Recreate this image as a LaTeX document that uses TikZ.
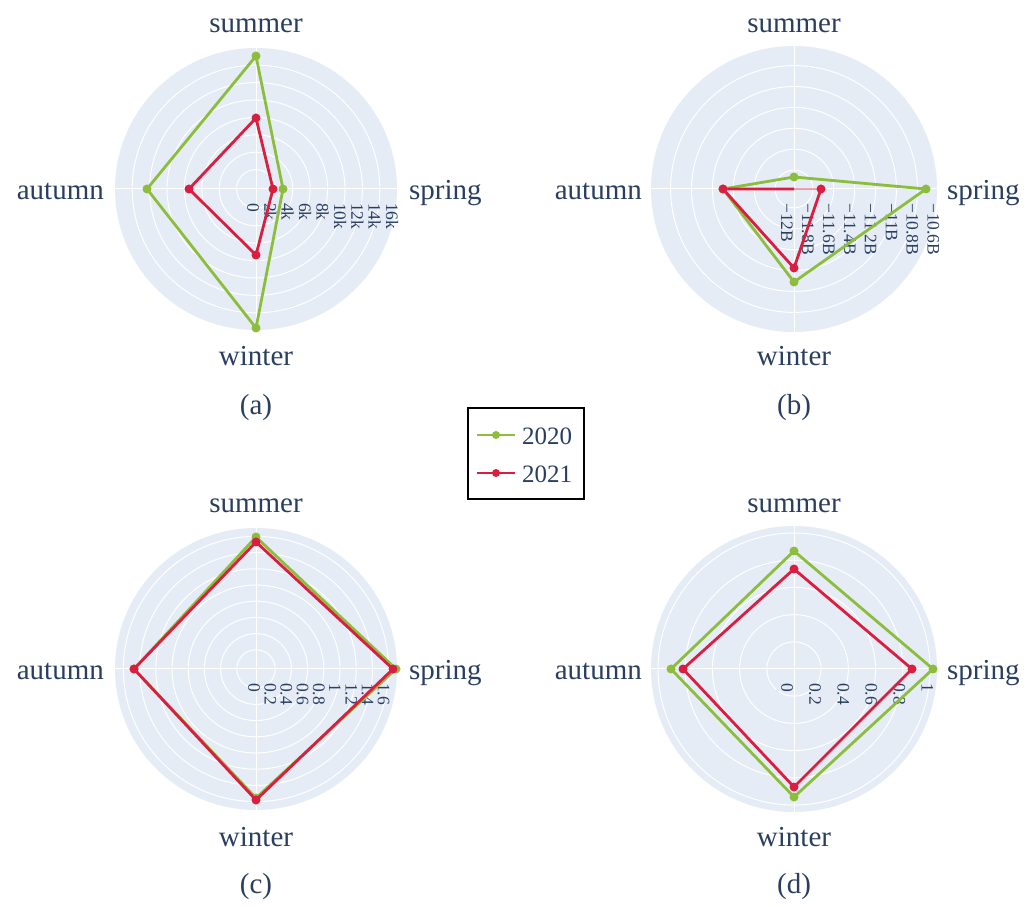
\documentclass[tikz,border=0pt]{standalone}
\usepackage{fontspec}
\setmainfont{Liberation Serif}
\definecolor{bgpol}{RGB}{229,236,246}
\definecolor{gr}{RGB}{141,189,60}
\definecolor{rd}{RGB}{218,30,64}
\definecolor{txt}{RGB}{42,63,95}
\tikzset{
  axlab/.style={font=\fontsize{29}{30}\selectfont, text=txt, inner sep=0pt},
  caplab/.style={font=\fontsize{29}{30}\selectfont, text=txt, inner sep=0pt, anchor=base},
  ticklab/.style={font=\fontsize{17.5}{18}\selectfont, text=txt, inner sep=0pt, rotate=-90, anchor=west},
  gline/.style={draw=gr, line width=2.8pt, line join=round},
  rline/.style={draw=rd, line width=2.8pt, line join=round},
  gdot/.style={circle, fill=gr, inner sep=0pt, minimum size=9pt},
  rdot/.style={circle, fill=rd, inner sep=0pt, minimum size=9pt},
  gridline/.style={draw=white, line width=1pt},
  legtxt/.style={font=\fontsize{25}{26}\selectfont, text=txt, inner sep=0pt, anchor=base west},
}
\newcommand\polarbg[3]{% prefix, outer radius, ring list
  \fill[bgpol] (0,0) circle (#2);
  \foreach \r in {#3} \draw[gridline] (0,0) circle (\r);
  \draw[gridline] (-#2,0) -- (#2,0);
  \draw[gridline] (0,-#2) -- (0,#2);
  \node[axlab, anchor=base] (#1-summer) at (0,156) {summer};
  \node[axlab, anchor=base west] (#1-spring) at (153,-11) {spring};
  \node[axlab, anchor=base east] (#1-autumn) at (-152,-11) {autumn};
  \node[axlab, anchor=base] (#1-winter) at (0,-177) {winter};
}
\begin{document}
\begin{tikzpicture}[x=1pt,y=1pt]
\useasboundingbox (0,0) rectangle (1034,906);
\fill[white] (0,0) rectangle (1034,906);

% ---------- panel (a)
\begin{scope}[shift={(256,717)}]
  \polarbg{a}{141}{19.4,36.8,54.2,71.6,89,106.4,123.8}
  \foreach \t [count=\k from 0] in {0,2k,4k,6k,8k,10k,12k,14k,16k}
    \node[ticklab] (ta\k) at ({-3+17.4*\k},-14) {\t};
  \coordinate (ag1) at (0:27);   \coordinate (ag2) at (90:133);
  \coordinate (ag3) at (180:109); \coordinate (ag4) at (270:139);
  \coordinate (ar1) at (0:17);   \coordinate (ar2) at (90:71);
  \coordinate (ar3) at (180:67); \coordinate (ar4) at (270:66);
  \draw[gline] (ag1) -- (ag2) -- (ag3) -- (ag4) -- cycle;
  \draw[rline] (ar1) -- (ar2) -- (ar3) -- (ar4) -- cycle;
  \foreach \i in {1,...,4} \node[gdot] (agd\i) at (ag\i) {};
  \foreach \i in {1,...,4} \node[rdot] (ard\i) at (ar\i) {};
\end{scope}
\node[caplab] (capa) at (256,491) {(a)};

% ---------- panel (b)
\begin{scope}[shift={(794,717)}]
  \polarbg{b}{143}{18.9,39.8,60.7,81.6,102.5,123.4}
  \foreach \t [count=\k from 0] in {−12B,−11.8B,−11.6B,−11.4B,−11.2B,−11B,−10.8B,−10.6B}
    \node[ticklab] (tb\k) at ({-7+20.9*\k},-14) {\t};
  \coordinate (bg1) at (0:132);  \coordinate (bg2) at (90:12);
  \coordinate (bg3) at (180:71); \coordinate (bg4) at (270:93);
  \coordinate (br1) at (0:27);   \coordinate (br2) at (0,0);
  \coordinate (br3) at (180:71); \coordinate (br4) at (270:79);
  \draw[gline] (bg1) -- (bg2) -- (bg3) -- (bg4) -- cycle;
  \draw[rline, draw opacity=0.4] (br1) -- (br2);
  \draw[rline] (br2) -- (br3) -- (br4) -- (br1);
  \foreach \i in {1,...,4} \node[gdot] (bgd\i) at (bg\i) {};
  \foreach \i in {1,3,4} \node[rdot] (brd\i) at (br\i) {};
\end{scope}
\node[caplab] (capb) at (794,491) {(b)};

% ---------- panel (c)
\begin{scope}[shift={(256,237)}]
  \polarbg{c}{141}{19.2,35.4,51.6,67.8,84,100.2,116.4,132.6}
  \foreach \t [count=\k from 0] in {0,0.2,0.4,0.6,0.8,1,1.2,1.4,1.6}
    \node[ticklab] (tc\k) at ({-2+16.2*\k},-14) {\t};
  \coordinate (cg1) at (0:140);  \coordinate (cg2) at (90:132);
  \coordinate (cg3) at (180:122); \coordinate (cg4) at (270:129);
  \coordinate (cr1) at (0:137);  \coordinate (cr2) at (90:127);
  \coordinate (cr3) at (180:122); \coordinate (cr4) at (270:131);
  \draw[gline] (cg1) -- (cg2) -- (cg3) -- (cg4) -- cycle;
  \foreach \i in {1,...,4} \node[gdot] (cgd\i) at (cg\i) {};
  \draw[rline] (cr1) -- (cr2) -- (cr3) -- (cr4) -- cycle;
  \foreach \i in {1,...,4} \node[rdot] (crd\i) at (cr\i) {};
\end{scope}
\node[caplab] (capc) at (256,13) {(c)};

% ---------- panel (d)
\begin{scope}[shift={(794,237)}]
  \polarbg{d}{143}{27.2,54.4,81.6,108.8,136}
  \foreach \t [count=\k from 0] in {0,0.2,0.4,0.6,0.8,1}
    \node[ticklab] (td\k) at ({-7+28.1*\k},-14) {\t};
  \coordinate (dg1) at (0:139);  \coordinate (dg2) at (90:118);
  \coordinate (dg3) at (180:123); \coordinate (dg4) at (270:128);
  \coordinate (dr1) at (0:118);  \coordinate (dr2) at (90:100);
  \coordinate (dr3) at (180:111); \coordinate (dr4) at (270:118);
  \draw[gline] (dg1) -- (dg2) -- (dg3) -- (dg4) -- cycle;
  \draw[rline] (dr1) -- (dr2) -- (dr3) -- (dr4) -- cycle;
  \foreach \i in {1,...,4} \node[gdot] (dgd\i) at (dg\i) {};
  \foreach \i in {1,...,4} \node[rdot] (drd\i) at (dr\i) {};
\end{scope}
\node[caplab] (capd) at (794,13) {(d)};

% ---------- legend
\draw[black, line width=2.2pt] (468,407) rectangle (584,498);
\coordinate (l1a) at (477,471); \coordinate (l1b) at (515,471);
\coordinate (l2a) at (477,433); \coordinate (l2b) at (515,433);
\draw[draw=gr, line width=2.8pt] (l1a) -- (l1b);
\node[gdot, minimum size=8pt] (l1d) at (496,471) {};
\node[legtxt] (l1t) at (522,461) {2020};
\draw[draw=rd, line width=2.8pt] (l2a) -- (l2b);
\node[rdot, minimum size=8pt] (l2d) at (496,433) {};
\node[legtxt] (l2t) at (522,423) {2021};
\end{tikzpicture}
\end{document}
